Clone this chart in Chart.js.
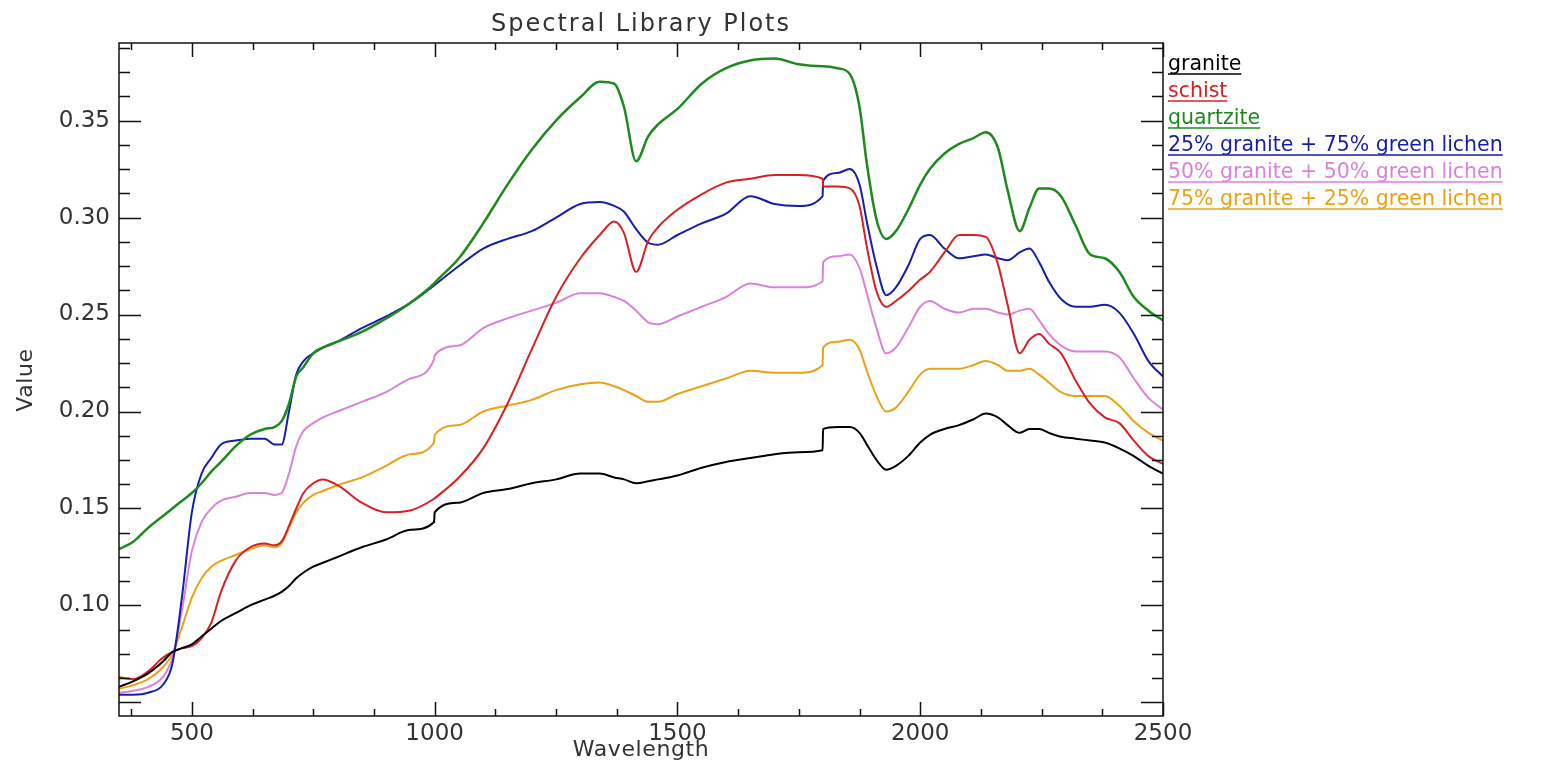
<!DOCTYPE html>
<html>
<head>
<meta charset="utf-8">
<title>Spectral Library Plots</title>
<script src="https://cdn.jsdelivr.net/npm/chart.js@4/dist/chart.umd.min.js"></script>
<style>
    html, body { margin: 0; padding: 0; background: #fff; }
</style>
</head>
<body>
<canvas id="spectra" width="1541" height="763"></canvas>
<script>
// wavelength samples (nm), steps at 1000 and 1800 are the detector splices
var wavelengths = [350, 380, 410, 440, 460, 480, 500, 520, 540, 560, 590, 620, 650, 670, 685, 700, 715, 730, 750, 770,
    800, 850, 900, 950, 999, 1000, 1050, 1100, 1150, 1200, 1250, 1300, 1340, 1370, 1390, 1415, 1440, 1460, 1500, 1550,
    1600, 1650, 1700, 1750, 1799, 1800, 1830, 1855, 1875, 1890, 1910, 1930, 1950, 1975, 2000, 2020, 2050, 2080, 2110, 2135,
    2160, 2180, 2205, 2225, 2245, 2265, 2290, 2320, 2350, 2380, 2410, 2440, 2470, 2500];

var granite = [0.058, 0.061, 0.065, 0.071, 0.076, 0.078, 0.080, 0.084, 0.088, 0.092, 0.096, 0.100, 0.103, 0.105, 0.107, 0.110, 0.114, 0.117, 0.120, 0.122,
    0.125, 0.130, 0.134, 0.139, 0.143, 0.148, 0.153, 0.158, 0.160, 0.163, 0.165, 0.168, 0.168, 0.166, 0.165, 0.163, 0.164, 0.165, 0.167, 0.171,
    0.174, 0.176, 0.178, 0.179, 0.180, 0.191, 0.192, 0.192, 0.189, 0.183, 0.175, 0.170, 0.172, 0.177, 0.184, 0.188, 0.191, 0.193, 0.196, 0.199,
    0.197, 0.193, 0.189, 0.191, 0.191, 0.189, 0.187, 0.186, 0.185, 0.184, 0.181, 0.177, 0.172, 0.168];

var schist = [0.063, 0.062, 0.066, 0.073, 0.076, 0.078, 0.079, 0.083, 0.091, 0.107, 0.123, 0.130, 0.132, 0.131, 0.133, 0.141, 0.150, 0.158, 0.163, 0.165,
    0.162, 0.153, 0.148, 0.149, 0.155, 0.1552, 0.166, 0.181, 0.204, 0.232, 0.259, 0.279, 0.291, 0.298, 0.292, 0.272, 0.288, 0.295, 0.304, 0.312,
    0.318, 0.320, 0.322, 0.322, 0.320, 0.316, 0.316, 0.315, 0.306, 0.285, 0.262, 0.254, 0.257, 0.262, 0.268, 0.272, 0.282, 0.291, 0.291, 0.290,
    0.276, 0.255, 0.230, 0.237, 0.240, 0.235, 0.230, 0.216, 0.204, 0.197, 0.194, 0.185, 0.177, 0.173];

var quartzite = [0.129, 0.133, 0.140, 0.146, 0.150, 0.154, 0.158, 0.163, 0.169, 0.174, 0.182, 0.188, 0.191, 0.192, 0.195, 0.204, 0.218, 0.223, 0.230, 0.233,
    0.236, 0.241, 0.248, 0.256, 0.266, 0.2663, 0.279, 0.297, 0.317, 0.335, 0.350, 0.362, 0.370, 0.369, 0.357, 0.329, 0.342, 0.348, 0.356, 0.369,
    0.377, 0.381, 0.382, 0.379, 0.378, 0.378, 0.377, 0.374, 0.357, 0.328, 0.299, 0.289, 0.293, 0.304, 0.317, 0.325, 0.333, 0.338, 0.341, 0.344,
    0.336, 0.314, 0.293, 0.305, 0.315, 0.315, 0.311, 0.296, 0.281, 0.279, 0.272, 0.259, 0.252, 0.247];

var mix25 = [0.054, 0.054, 0.055, 0.059, 0.070, 0.105, 0.148, 0.168, 0.176, 0.183, 0.185, 0.186, 0.186, 0.183, 0.183, 0.200, 0.219, 0.226, 0.230, 0.233,
    0.236, 0.243, 0.249, 0.256, 0.265, 0.2652, 0.275, 0.284, 0.289, 0.293, 0.300, 0.307, 0.308, 0.306, 0.303, 0.294, 0.287, 0.286, 0.291, 0.297,
    0.302, 0.311, 0.307, 0.306, 0.311, 0.319, 0.323, 0.325, 0.317, 0.298, 0.275, 0.260, 0.264, 0.275, 0.289, 0.291, 0.284, 0.279, 0.280, 0.281,
    0.279, 0.278, 0.282, 0.284, 0.277, 0.267, 0.258, 0.254, 0.254, 0.255, 0.251, 0.240, 0.226, 0.218];

var mix50 = [0.055, 0.056, 0.058, 0.063, 0.073, 0.098, 0.128, 0.143, 0.150, 0.154, 0.156, 0.158, 0.158, 0.157, 0.158, 0.168, 0.182, 0.190, 0.194, 0.197,
    0.200, 0.205, 0.210, 0.217, 0.227, 0.229, 0.234, 0.243, 0.248, 0.252, 0.256, 0.261, 0.261, 0.259, 0.257, 0.252, 0.246, 0.245, 0.249, 0.254,
    0.259, 0.266, 0.264, 0.264, 0.267, 0.277, 0.280, 0.281, 0.274, 0.261, 0.243, 0.230, 0.233, 0.243, 0.254, 0.257, 0.253, 0.251, 0.253, 0.253,
    0.251, 0.250, 0.252, 0.253, 0.247, 0.240, 0.234, 0.231, 0.231, 0.231, 0.228, 0.217, 0.207, 0.201];

var mix75 = [0.057, 0.059, 0.062, 0.068, 0.075, 0.089, 0.104, 0.114, 0.120, 0.123, 0.126, 0.129, 0.131, 0.130, 0.132, 0.140, 0.148, 0.153, 0.157, 0.159,
    0.162, 0.166, 0.172, 0.178, 0.184, 0.188, 0.193, 0.200, 0.203, 0.206, 0.211, 0.214, 0.215, 0.213, 0.211, 0.208, 0.205, 0.205, 0.209, 0.213,
    0.217, 0.221, 0.220, 0.220, 0.224, 0.233, 0.236, 0.237, 0.232, 0.221, 0.208, 0.200, 0.202, 0.210, 0.219, 0.222, 0.222, 0.222, 0.224, 0.226,
    0.224, 0.221, 0.221, 0.222, 0.219, 0.215, 0.210, 0.208, 0.208, 0.208, 0.203, 0.195, 0.189, 0.185];

var seriesNames = ['granite', 'schist', 'quartzite', '25% granite + 75% green lichen', '50% granite + 50% green lichen', '75% granite + 25% green lichen'];
var xTickValues = [500, 1000, 1500, 2000, 2500];
var yTickValues = [0.10, 0.15, 0.20, 0.25, 0.30, 0.35];

var TEXT_FONT = '"DejaVu Sans", "Liberation Sans", sans-serif';
var TEXT_COLOR = '#333333';

function toPoints(values) {
    return wavelengths.map((w, i) => ({x: w, y: values[i]}));
}

function lineSet(label, values, color, width) {
    return {
        label: label,
        data: toPoints(values),
        borderColor: color,
        backgroundColor: color,
        borderWidth: width,
        pointRadius: 0,
        cubicInterpolationMode: 'monotone',
        fill: false
    };
}

// IDL style box: inward ticks on all four sides, title, axis titles, underlined legend
const idlFrame = {
    id: 'idlFrame',
    afterDatasetsDraw(chart) {
        const ctx = chart.ctx;
        const a = chart.chartArea;
        const xs = chart.scales.x;
        const ys = chart.scales.y;

        ctx.save();
        ctx.strokeStyle = '#111';
        ctx.lineWidth = 1.5;
        ctx.strokeRect(a.left, a.top, a.right - a.left, a.bottom - a.top);

        ctx.beginPath();
        for (let k = 3; k <= 20; k++) {
            let v = k * 125;
            let px = Math.round(xs.getPixelForValue(v)) + 0.5;
            let len = (k % 4 === 0) ? 14 : 7;
            ctx.moveTo(px, a.bottom);
            ctx.lineTo(px, a.bottom - len);
            ctx.moveTo(px, a.top);
            ctx.lineTo(px, a.top + len);
        }
        for (let k = 4; k <= 31; k++) {
            let v = k * 0.0125;
            let py = Math.round(ys.getPixelForValue(v)) + 0.5;
            let len = (k % 4 === 0) ? 22 : 11;
            ctx.moveTo(a.left, py);
            ctx.lineTo(a.left + len, py);
            ctx.moveTo(a.right, py);
            ctx.lineTo(a.right - len, py);
        }
        ctx.stroke();

        ctx.fillStyle = TEXT_COLOR;
        ctx.textAlign = 'center';
        ctx.textBaseline = 'middle';
        ctx.font = '24px ' + TEXT_FONT;
        ctx.letterSpacing = '2px';
        ctx.fillText('Spectral Library Plots', (a.left + a.right) / 2, 25);
        ctx.font = '22px ' + TEXT_FONT;
        ctx.letterSpacing = '0.6px';
        ctx.fillText('Wavelength', (a.left + a.right) / 2, 750);

        ctx.save();
        ctx.translate(26, 380);
        ctx.rotate(-Math.PI / 2);
        ctx.fillText('Value', 0, 0);
        ctx.restore();
        ctx.letterSpacing = '0px';

        ctx.font = '20.5px ' + TEXT_FONT;
        ctx.textAlign = 'left';
        ctx.textBaseline = 'alphabetic';
        chart.data.datasets.forEach((ds, i) => {
            let tx = 1168;
            let ty = 70 + i * 27;
            let w = ctx.measureText(ds.label).width;
            ctx.fillStyle = ds.borderColor;
            ctx.fillText(ds.label, tx, ty);
            ctx.strokeStyle = ds.borderColor;
            ctx.lineWidth = 1.5;
            ctx.beginPath();
            ctx.moveTo(tx, ty + 4);
            ctx.lineTo(tx + w, ty + 4);
            ctx.stroke();
        });
        ctx.restore();
    }
};

const config = {
    type: 'line',
    data: {
        datasets: [
            lineSet(seriesNames[0], granite, '#000000', 2),
            lineSet(seriesNames[1], schist, 'rgb(214, 32, 36)', 2),
            lineSet(seriesNames[2], quartzite, 'rgb(30, 138, 30)', 2.5),
            lineSet(seriesNames[3], mix25, 'rgb(22, 30, 170)', 2),
            lineSet(seriesNames[4], mix50, 'rgb(218, 130, 218)', 2),
            lineSet(seriesNames[5], mix75, 'rgb(232, 162, 22)', 2)
        ]
    },
    options: {
        responsive: false,
        animation: false,
        layout: {
            padding: {left: 0, right: 378, top: 43, bottom: 0}
        },
        scales: {
            x: {
                type: 'linear',
                min: 350,
                max: 2500,
                afterBuildTicks: function (scale) {
                    scale.ticks = xTickValues.map(v => ({value: v}));
                },
                afterFit: function (scale) {
                    scale.height = 47;
                },
                grid: {drawOnChartArea: false, drawTicks: false},
                border: {display: false},
                ticks: {
                    color: TEXT_COLOR,
                    font: {family: TEXT_FONT, size: 23},
                    padding: 4,
                    maxRotation: 0,
                    autoSkip: false,
                    callback: v => String(v)
                }
            },
            y: {
                type: 'linear',
                min: 0.043,
                max: 0.390,
                afterBuildTicks: function (scale) {
                    scale.ticks = yTickValues.map(v => ({value: v}));
                },
                afterFit: function (scale) {
                    scale.width = 119;
                },
                grid: {drawOnChartArea: false, drawTicks: false},
                border: {display: false},
                ticks: {
                    color: TEXT_COLOR,
                    font: {family: TEXT_FONT, size: 23},
                    padding: 9,
                    autoSkip: false,
                    callback: v => v.toFixed(2)
                }
            }
        },
        plugins: {
            legend: {display: false},
            title: {display: false},
            tooltip: {enabled: false}
        }
    },
    plugins: [idlFrame]
};

const graphic = new Chart(document.getElementById('spectra'), config);
</script>
</body>
</html>
